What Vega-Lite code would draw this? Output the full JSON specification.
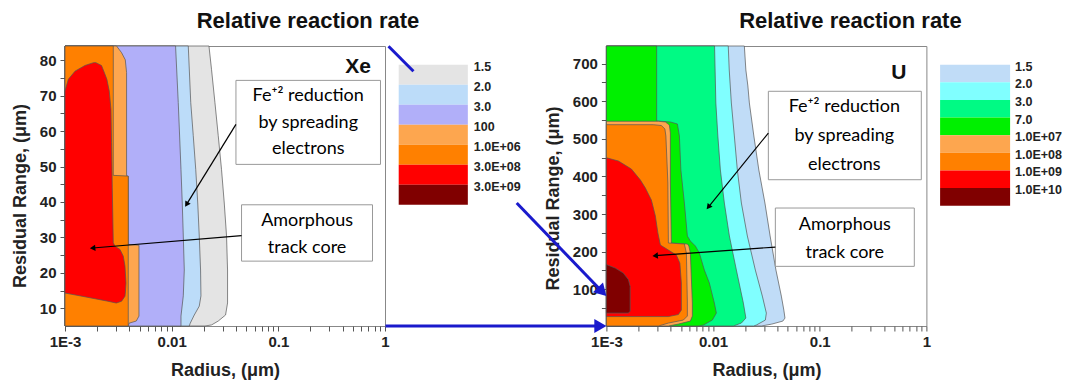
{
 "$schema": "https://vega.github.io/schema/vega-lite/v6.json",
 "background": "white",
 "padding": {"left": 10, "top": 9, "right": 5, "bottom": 2},
 "config": {
  "font": "Liberation Sans",
  "view": {"stroke": null},
  "axis": {"labelFont": "Liberation Sans", "labelFontWeight": "bold", "labelFontSize": 15, "labelColor": "#222", "titleFont": "Liberation Sans", "titleFontWeight": "bold", "titleFontSize": 18, "titleColor": "#222", "tickColor": "#555", "grid": false, "tickSize": 5, "labelOverlap": false, "labelFlush": false, "labelBound": false, "domain": false},
  "title": {"font": "Liberation Sans", "fontSize": 22, "fontWeight": "bold", "color": "#111", "offset": 12, "anchor": "middle", "frame": "group"}
 },
 "datasets": {
  "xeContours": [
   {"level": "1.5", "y": 84, "x": 0.02237, "lo": 0.001},
   {"level": "1.5", "y": 77.3, "x": 0.02366, "lo": 0.001},
   {"level": "1.5", "y": 68, "x": 0.02545, "lo": 0.001},
   {"level": "1.5", "y": 58.7, "x": 0.02733, "lo": 0.001},
   {"level": "1.5", "y": 49.1, "x": 0.02935, "lo": 0.001},
   {"level": "1.5", "y": 39.7, "x": 0.03112, "lo": 0.001},
   {"level": "1.5", "y": 30.4, "x": 0.03269, "lo": 0.001},
   {"level": "1.5", "y": 20.8, "x": 0.03341, "lo": 0.001},
   {"level": "1.5", "y": 11.5, "x": 0.03341, "lo": 0.001},
   {"level": "1.5", "y": 8.1, "x": 0.032, "lo": 0.001},
   {"level": "1.5", "y": 6.4, "x": 0.02733, "lo": 0.001},
   {"level": "1.5", "y": 5.3, "x": 0.02366, "lo": 0.001},
   {"level": "1.5", "y": 5, "x": 0.02051, "lo": 0.001},
   {"level": "2.0", "y": 84, "x": 0.01431, "lo": 0.001},
   {"level": "2.0", "y": 68, "x": 0.0151, "lo": 0.001},
   {"level": "2.0", "y": 58.7, "x": 0.01594, "lo": 0.001},
   {"level": "2.0", "y": 49.1, "x": 0.01682, "lo": 0.001},
   {"level": "2.0", "y": 39.7, "x": 0.01756, "lo": 0.001},
   {"level": "2.0", "y": 30.4, "x": 0.01814, "lo": 0.001},
   {"level": "2.0", "y": 20.8, "x": 0.01866, "lo": 0.001},
   {"level": "2.0", "y": 13.5, "x": 0.01882, "lo": 0.001},
   {"level": "2.0", "y": 10.6, "x": 0.01814, "lo": 0.001},
   {"level": "2.0", "y": 8.1, "x": 0.01629, "lo": 0.001},
   {"level": "2.0", "y": 5.8, "x": 0.01494, "lo": 0.001},
   {"level": "2.0", "y": 5, "x": 0.01462, "lo": 0.001},
   {"level": "3.0", "y": 84, "x": 0.01088, "lo": 0.001},
   {"level": "3.0", "y": 68, "x": 0.01153, "lo": 0.001},
   {"level": "3.0", "y": 49.1, "x": 0.01223, "lo": 0.001},
   {"level": "3.0", "y": 39.7, "x": 0.01257, "lo": 0.001},
   {"level": "3.0", "y": 30.4, "x": 0.01285, "lo": 0.001},
   {"level": "3.0", "y": 20.8, "x": 0.01313, "lo": 0.001},
   {"level": "3.0", "y": 13.5, "x": 0.01285, "lo": 0.001},
   {"level": "3.0", "y": 7.8, "x": 0.01223, "lo": 0.001},
   {"level": "3.0", "y": 5, "x": 0.01223, "lo": 0.001},
   {"level": "100", "y": 84, "x": 0.003045, "lo": 0.001},
   {"level": "100", "y": 82.1, "x": 0.003393, "lo": 0.001},
   {"level": "100", "y": 80.1, "x": 0.003674, "lo": 0.001},
   {"level": "100", "y": 76.5, "x": 0.003778, "lo": 0.001},
   {"level": "100", "y": 47.4, "x": 0.003778, "lo": 0.001},
   {"level": "100", "y": 47.2, "x": 0.003919, "lo": 0.001},
   {"level": "100", "y": 28, "x": 0.003919, "lo": 0.001},
   {"level": "100", "y": 27.8, "x": 0.004938, "lo": 0.001},
   {"level": "100", "y": 7.8, "x": 0.004938, "lo": 0.001},
   {"level": "100", "y": 6.4, "x": 0.00466, "lo": 0.001},
   {"level": "100", "y": 5.8, "x": 0.00399, "lo": 0.001},
   {"level": "100", "y": 5, "x": 0.003919, "lo": 0.001},
   {"level": "1.0E+06", "y": 84, "x": 0.002836, "lo": 0.001},
   {"level": "1.0E+06", "y": 47.5, "x": 0.002836, "lo": 0.001},
   {"level": "1.0E+06", "y": 47.3, "x": 0.003919, "lo": 0.001},
   {"level": "1.0E+06", "y": 5, "x": 0.003919, "lo": 0.001},
   {"level": "3.0E+08", "y": 79.3, "x": 0.00195, "lo": 0.00185},
   {"level": "3.0E+08", "y": 78.5, "x": 0.0022, "lo": 0.001539},
   {"level": "3.0E+08", "y": 76.9, "x": 0.00231, "lo": 0.001241},
   {"level": "3.0E+08", "y": 74.6, "x": 0.00247, "lo": 0.001074},
   {"level": "3.0E+08", "y": 71.3, "x": 0.0026, "lo": 0.001},
   {"level": "3.0E+08", "y": 66.1, "x": 0.002698, "lo": 0.001},
   {"level": "3.0E+08", "y": 56.7, "x": 0.002733, "lo": 0.001},
   {"level": "3.0E+08", "y": 44, "x": 0.002775, "lo": 0.001},
   {"level": "3.0E+08", "y": 28.5, "x": 0.002836, "lo": 0.001},
   {"level": "3.0E+08", "y": 27.5, "x": 0.002941, "lo": 0.001},
   {"level": "3.0E+08", "y": 26.6, "x": 0.003278, "lo": 0.001},
   {"level": "3.0E+08", "y": 24.7, "x": 0.00352, "lo": 0.001},
   {"level": "3.0E+08", "y": 21.9, "x": 0.003651, "lo": 0.001},
   {"level": "3.0E+08", "y": 17.1, "x": 0.003731, "lo": 0.001},
   {"level": "3.0E+08", "y": 14.3, "x": 0.00368, "lo": 0.001},
   {"level": "3.0E+08", "y": 13.4, "x": 0.003651, "lo": 0.001443},
   {"level": "3.0E+08", "y": 12, "x": 0.003393, "lo": 0.002519},
   {"level": "3.0E+08", "y": 11.5, "x": 0.003045, "lo": 0.003}
  ],
  "uContours": [
   {"level": "1.5", "y": 747, "x": 0.01965, "lo": 0.001},
   {"level": "1.5", "y": 683.2, "x": 0.0203, "lo": 0.001},
   {"level": "1.5", "y": 640.6, "x": 0.0212, "lo": 0.001},
   {"level": "1.5", "y": 595.4, "x": 0.02189, "lo": 0.001},
   {"level": "1.5", "y": 507.6, "x": 0.02412, "lo": 0.001},
   {"level": "1.5", "y": 417.1, "x": 0.02686, "lo": 0.001},
   {"level": "1.5", "y": 329.2, "x": 0.03064, "lo": 0.001},
   {"level": "1.5", "y": 241.4, "x": 0.03427, "lo": 0.001},
   {"level": "1.5", "y": 150.8, "x": 0.03886, "lo": 0.001},
   {"level": "1.5", "y": 81.6, "x": 0.04365, "lo": 0.001},
   {"level": "1.5", "y": 44.4, "x": 0.04608, "lo": 0.001},
   {"level": "1.5", "y": 23.1, "x": 0.0472, "lo": 0.001},
   {"level": "1.5", "y": 15.1, "x": 0.0451, "lo": 0.001},
   {"level": "1.5", "y": 7.1, "x": 0.03556, "lo": 0.001},
   {"level": "1.5", "y": 2, "x": 0.02836, "lo": 0.001},
   {"level": "2.0", "y": 747, "x": 0.01388, "lo": 0.001},
   {"level": "2.0", "y": 683.2, "x": 0.01418, "lo": 0.001},
   {"level": "2.0", "y": 595.4, "x": 0.01484, "lo": 0.001},
   {"level": "2.0", "y": 507.6, "x": 0.01583, "lo": 0.001},
   {"level": "2.0", "y": 417.1, "x": 0.01689, "lo": 0.001},
   {"level": "2.0", "y": 329.2, "x": 0.01842, "lo": 0.001},
   {"level": "2.0", "y": 241.4, "x": 0.02097, "lo": 0.001},
   {"level": "2.0", "y": 150.8, "x": 0.02491, "lo": 0.001},
   {"level": "2.0", "y": 81.6, "x": 0.02897, "lo": 0.001},
   {"level": "2.0", "y": 36.4, "x": 0.03159, "lo": 0.001},
   {"level": "2.0", "y": 17.8, "x": 0.03092, "lo": 0.001},
   {"level": "2.0", "y": 4.5, "x": 0.02545, "lo": 0.001},
   {"level": "2.0", "y": 2, "x": 0.024, "lo": 0.001},
   {"level": "3.0", "y": 747, "x": 0.01033, "lo": 0.001},
   {"level": "3.0", "y": 595.4, "x": 0.01062, "lo": 0.001},
   {"level": "3.0", "y": 507.6, "x": 0.01109, "lo": 0.001},
   {"level": "3.0", "y": 417.1, "x": 0.01171, "lo": 0.001},
   {"level": "3.0", "y": 329.2, "x": 0.01276, "lo": 0.001},
   {"level": "3.0", "y": 241.4, "x": 0.01422, "lo": 0.001},
   {"level": "3.0", "y": 150.8, "x": 0.01654, "lo": 0.001},
   {"level": "3.0", "y": 63, "x": 0.01923, "lo": 0.001},
   {"level": "3.0", "y": 23.1, "x": 0.0203, "lo": 0.001},
   {"level": "3.0", "y": 9.8, "x": 0.01842, "lo": 0.001},
   {"level": "3.0", "y": 2, "x": 0.0155, "lo": 0.001},
   {"level": "7.0", "y": 747, "x": 0.00296, "lo": 0.001},
   {"level": "7.0", "y": 547.5, "x": 0.00296, "lo": 0.001},
   {"level": "7.0", "y": 544.8, "x": 0.003979, "lo": 0.001},
   {"level": "7.0", "y": 539.5, "x": 0.00463, "lo": 0.001},
   {"level": "7.0", "y": 507.6, "x": 0.004834, "lo": 0.001},
   {"level": "7.0", "y": 417.1, "x": 0.004992, "lo": 0.001},
   {"level": "7.0", "y": 329.2, "x": 0.005383, "lo": 0.001},
   {"level": "7.0", "y": 241.4, "x": 0.005742, "lo": 0.001},
   {"level": "7.0", "y": 228.1, "x": 0.006127, "lo": 0.001},
   {"level": "7.0", "y": 214.8, "x": 0.006825, "lo": 0.001},
   {"level": "7.0", "y": 196.1, "x": 0.007439, "lo": 0.001},
   {"level": "7.0", "y": 150.8, "x": 0.008288, "lo": 0.001},
   {"level": "7.0", "y": 116.3, "x": 0.009232, "lo": 0.001},
   {"level": "7.0", "y": 63, "x": 0.01028, "lo": 0.001},
   {"level": "7.0", "y": 36.4, "x": 0.01074, "lo": 0.001},
   {"level": "7.0", "y": 17.8, "x": 0.009849, "lo": 0.001},
   {"level": "7.0", "y": 4.5, "x": 0.008111, "lo": 0.001},
   {"level": "7.0", "y": 2, "x": 0.007281, "lo": 0.001},
   {"level": "1.0E+07", "y": 546.7, "x": 0.003071, "lo": 0.001},
   {"level": "1.0E+07", "y": 544.8, "x": 0.003573, "lo": 0.001},
   {"level": "1.0E+07", "y": 536.8, "x": 0.003894, "lo": 0.001},
   {"level": "1.0E+07", "y": 515.5, "x": 0.003979, "lo": 0.001},
   {"level": "1.0E+07", "y": 382.5, "x": 0.003979, "lo": 0.001},
   {"level": "1.0E+07", "y": 222.8, "x": 0.004066, "lo": 0.001},
   {"level": "1.0E+07", "y": 220.1, "x": 0.005742, "lo": 0.001},
   {"level": "1.0E+07", "y": 214.8, "x": 0.005932, "lo": 0.001},
   {"level": "1.0E+07", "y": 196.1, "x": 0.006127, "lo": 0.001},
   {"level": "1.0E+07", "y": 63, "x": 0.006397, "lo": 0.001},
   {"level": "1.0E+07", "y": 28.5, "x": 0.006397, "lo": 0.001},
   {"level": "1.0E+07", "y": 15.1, "x": 0.006127, "lo": 0.001},
   {"level": "1.0E+07", "y": 7.1, "x": 0.004729, "lo": 0.001},
   {"level": "1.0E+07", "y": 2, "x": 0.003811, "lo": 0.001},
   {"level": "1.0E+08", "y": 537.6, "x": 0.002757, "lo": 0.001},
   {"level": "1.0E+08", "y": 535.5, "x": 0.003278, "lo": 0.001},
   {"level": "1.0E+08", "y": 526.2, "x": 0.003534, "lo": 0.001},
   {"level": "1.0E+08", "y": 507.6, "x": 0.003611, "lo": 0.001},
   {"level": "1.0E+08", "y": 382.5, "x": 0.003771, "lo": 0.001},
   {"level": "1.0E+08", "y": 222.8, "x": 0.003811, "lo": 0.001},
   {"level": "1.0E+08", "y": 220.1, "x": 0.005383, "lo": 0.001},
   {"level": "1.0E+08", "y": 196.1, "x": 0.005623, "lo": 0.001},
   {"level": "1.0E+08", "y": 63, "x": 0.005742, "lo": 0.001},
   {"level": "1.0E+08", "y": 28.5, "x": 0.005742, "lo": 0.001},
   {"level": "1.0E+08", "y": 17.8, "x": 0.005267, "lo": 0.001},
   {"level": "1.0E+08", "y": 9.8, "x": 0.003811, "lo": 0.001},
   {"level": "1.0E+08", "y": 2, "x": 0.003071, "lo": 0.001},
   {"level": "1.0E+09", "y": 449, "x": 0.001022, "lo": 0.001},
   {"level": "1.0E+09", "y": 441, "x": 0.001296, "lo": 0.001},
   {"level": "1.0E+09", "y": 419.7, "x": 0.001715, "lo": 0.001},
   {"level": "1.0E+09", "y": 390.4, "x": 0.002083, "lo": 0.001},
   {"level": "1.0E+09", "y": 369.1, "x": 0.00232, "lo": 0.001},
   {"level": "1.0E+09", "y": 337.2, "x": 0.002641, "lo": 0.001},
   {"level": "1.0E+09", "y": 294.6, "x": 0.002879, "lo": 0.001},
   {"level": "1.0E+09", "y": 249.4, "x": 0.003039, "lo": 0.001},
   {"level": "1.0E+09", "y": 217.4, "x": 0.003208, "lo": 0.001},
   {"level": "1.0E+09", "y": 204.1, "x": 0.003811, "lo": 0.001},
   {"level": "1.0E+09", "y": 190.8, "x": 0.004529, "lo": 0.001},
   {"level": "1.0E+09", "y": 169.5, "x": 0.004885, "lo": 0.001},
   {"level": "1.0E+09", "y": 116.3, "x": 0.005045, "lo": 0.001},
   {"level": "1.0E+09", "y": 44.4, "x": 0.005045, "lo": 0.001},
   {"level": "1.0E+09", "y": 32.4, "x": 0.004729, "lo": 0.001},
   {"level": "1.0E+09", "y": 27.1, "x": 0.003811, "lo": 0.001},
   {"level": "1.0E+10", "y": 165, "x": 0.00101, "lo": 0.001},
   {"level": "1.0E+10", "y": 156.2, "x": 0.00121, "lo": 0.001},
   {"level": "1.0E+10", "y": 142.9, "x": 0.00144, "lo": 0.001},
   {"level": "1.0E+10", "y": 125.1, "x": 0.00161, "lo": 0.001},
   {"level": "1.0E+10", "y": 107.5, "x": 0.00167, "lo": 0.001},
   {"level": "1.0E+10", "y": 40.9, "x": 0.00167, "lo": 0.001},
   {"level": "1.0E+10", "y": 36.4, "x": 0.0016, "lo": 0.001}
  ],
  "xeLegend": [{"level": "1.5"}, {"level": "2.0"}, {"level": "3.0"}, {"level": "100"}, {"level": "1.0E+06"}, {"level": "3.0E+08"}, {"level": "3.0E+09"}],
  "uLegend": [{"level": "1.5"}, {"level": "2.0"}, {"level": "3.0"}, {"level": "7.0"}, {"level": "1.0E+07"}, {"level": "1.0E+08"}, {"level": "1.0E+09"}, {"level": "1.0E+10"}],
  "xeBoxes": [{"x": 0.04005, "x2": 0.9074, "y": 74.3, "y2": 50.6}, {"x": 0.04519, "x2": 0.7636, "y": 39.2, "y2": 23.3}],
  "uBoxes": [{"x": 0.03298, "x2": 0.8959, "y": 626.5, "y2": 391.2}, {"x": 0.03837, "x2": 0.7701, "y": 315.9, "y2": 160.7}],
  "xeText": [
   {"x": 0.1906, "y": 70.0, "t": "Fe⁺² reduction"},
   {"x": 0.1906, "y": 62.3, "t": "by spreading"},
   {"x": 0.1906, "y": 55.0, "t": "electrons"},
   {"x": 0.186, "y": 34.6, "t": "Amorphous"},
   {"x": 0.186, "y": 27.0, "t": "track core"}
  ],
  "uText": [
   {"x": 0.17, "y": 584.7, "t": "Fe⁺² reduction"},
   {"x": 0.17, "y": 507.6, "t": "by spreading"},
   {"x": 0.17, "y": 430.4, "t": "electrons"},
   {"x": 0.1717, "y": 271.5, "t": "Amorphous"},
   {"x": 0.1717, "y": 196.1, "t": "track core"}
  ],
  "xeTag": [{"x": 0.5608, "y": 78.0, "t": "Xe"}],
  "uTag": [{"x": 0.5524, "y": 675.2, "t": "U"}],
  "xeArrows": [{"id": 1, "x": 0.04005, "y": 61.9, "x2": 0.01379, "y2": 39.3}, {"id": 2, "x": 0.04519, "y": 30.5, "x2": 0.001815, "y2": 27.0}],
  "uArrows": [{"id": 1, "x": 0.03298, "y": 515.5, "x2": 0.009036, "y2": 318.6}, {"id": 2, "x": 0.03837, "y": 212.1, "x2": 0.002867, "y2": 189.0}],
  "blueLines": [{"id": 1, "x": 0.00000906, "y": 746.3, "x2": 0.00001553, "y2": 679.8}, {"id": 2, "x": 0.0001443, "y": 329.2, "x2": 0.000913, "y2": 93.1}, {"id": 3, "x": 0.00000849, "y": 2, "x2": 0.0008786, "y2": 2}]
 },
 "spacing": 13.7,
 "bounds": "flush",
 "resolve": {"scale": {"x": "independent", "y": "independent", "color": "independent"}},
 "hconcat": [
  {
   "title": {"text": "Relative reaction rate", "dx": 83},
   "width": 320, "height": 280,
   "view": {"stroke": "#888", "strokeWidth": 1},
   "encoding": {
    "x": {"field": "x", "type": "quantitative", "scale": {"type": "log", "domain": [0.001, 1], "nice": false},
          "axis": {"title": "Radius, (μm)", "values": [0.001,0.002,0.003,0.004,0.005,0.006,0.007,0.008,0.009,0.01,0.02,0.03,0.04,0.05,0.06,0.07,0.08,0.09,0.1,0.2,0.3,0.4,0.5,0.6,0.7,0.8,0.9,1],
                   "labelExpr": "datum.value == 0.001 ? '1E-3' : datum.value == 0.01 ? '0.01' : datum.value == 0.1 ? '0.1' : datum.value == 1 ? '1' : ''",
                   "labelPadding": 3, "titlePadding": 12}},
    "y": {"field": "y", "type": "quantitative", "scale": {"domain": [5, 84], "nice": false, "zero": false},
          "axis": {"title": "Residual Range, (μm)", "values": [10,15,20,25,30,35,40,45,50,55,60,65,70,75,80],
                   "labelExpr": "datum.value % 10 == 0 ? datum.label : ''", "titleY": 149.5, "titlePadding": 10, "labelPadding": 4}}
   },
   "layer": [
    {"data": {"name": "xeContours"},
     "mark": {"type": "area", "orient": "horizontal", "stroke": "#555", "strokeWidth": 0.7},
     "encoding": {
      "x2": {"field": "lo"},
      "color": {"field": "level", "type": "nominal", "legend": null,
                "scale": {"domain": ["1.5", "2.0", "3.0", "100", "1.0E+06", "3.0E+08", "3.0E+09"], "range": ["#e4e4e4", "#bcdcf9", "#b1aff9", "#fda64f", "#ff8000", "#ff0000", "#800000"]}}
     }},
    {"data": {"name": "xeBoxes"}, "mark": {"type": "rect", "fill": "white", "stroke": "#999", "strokeWidth": 1},
     "encoding": {"x2": {"field": "x2"}, "y2": {"field": "y2"}}},
    {"data": {"name": "xeText"}, "mark": {"type": "text", "font": "Lato", "fontSize": 18, "color": "#000", "baseline": "middle", "align": "center"},
     "encoding": {"text": {"field": "t"}}},
    {"data": {"name": "xeTag"}, "mark": {"type": "text", "font": "Liberation Sans", "fontWeight": "bold", "fontSize": 21, "color": "#111", "baseline": "middle", "align": "center"},
     "encoding": {"text": {"field": "t"}}},
    {"data": {"name": "xeArrows"}, "mark": {"type": "rule", "color": "#000", "strokeWidth": 1.2},
     "encoding": {"x2": {"field": "x2"}, "y2": {"field": "y2"}}},
    {"data": {"name": "xeArrows"}, "transform": [{"filter": "datum.id == 1"}],
     "mark": {"type": "point", "shape": "triangle-up", "angle": 212, "filled": true, "color": "#000", "size": 40, "opacity": 1},
     "encoding": {"x": {"field": "x2", "type": "quantitative"}, "y": {"field": "y2", "type": "quantitative"}}},
    {"data": {"name": "xeArrows"}, "transform": [{"filter": "datum.id == 2"}],
     "mark": {"type": "point", "shape": "triangle-up", "angle": 265, "filled": true, "color": "#000", "size": 40, "opacity": 1},
     "encoding": {"x": {"field": "x2", "type": "quantitative"}, "y": {"field": "y2", "type": "quantitative"}}}
   ]
  },
  {
   "width": 193.6, "height": 280,
   "view": {"stroke": null},
   "data": {"name": "xeLegend"},
   "encoding": {
    "y": {"field": "level", "type": "nominal", "sort": null, "axis": null,
          "scale": {"paddingInner": 0, "paddingOuter": 0, "range": [18.7, 158.7]}}
   },
   "layer": [
    {"mark": {"type": "rect"},
     "encoding": {
      "x": {"datum": 0, "type": "quantitative", "scale": {"domain": [0, 2.766]}, "axis": null},
      "x2": {"datum": 1},
      "color": {"field": "level", "type": "nominal", "legend": null,
                "scale": {"domain": ["1.5", "2.0", "3.0", "100", "1.0E+06", "3.0E+08", "3.0E+09"], "range": ["#e4e4e4", "#bcdcf9", "#b1aff9", "#fda64f", "#ff8000", "#ff0000", "#800000"]}}
     }},
    {"mark": {"type": "text", "align": "left", "baseline": "middle", "dx": 6, "dy": 2, "fontSize": 12.5, "fontWeight": "bold", "font": "Liberation Sans", "color": "#222"},
     "encoding": {
      "y": {"field": "level", "type": "nominal", "sort": null, "bandPosition": 0},
      "x": {"datum": 1, "type": "quantitative"},
      "text": {"field": "level"}
     }}
   ]
  },
  {
   "title": {"text": "Relative reaction rate", "dx": 84},
   "width": 320, "height": 280,
   "view": {"stroke": "#888", "strokeWidth": 1},
   "encoding": {
    "x": {"field": "x", "type": "quantitative", "scale": {"type": "log", "domain": [0.001, 1], "nice": false},
          "axis": {"title": "Radius, (μm)", "values": [0.001,0.002,0.003,0.004,0.005,0.006,0.007,0.008,0.009,0.01,0.02,0.03,0.04,0.05,0.06,0.07,0.08,0.09,0.1,0.2,0.3,0.4,0.5,0.6,0.7,0.8,0.9,1],
                   "labelExpr": "datum.value == 0.001 ? '1E-3' : datum.value == 0.01 ? '0.01' : datum.value == 0.1 ? '0.1' : datum.value == 1 ? '1' : ''",
                   "labelPadding": 3, "titlePadding": 12}},
    "y": {"field": "y", "type": "quantitative", "scale": {"domain": [2, 747], "nice": false, "zero": false},
          "axis": {"title": "Residual Range, (μm)", "values": [50,100,150,200,250,300,350,400,450,500,550,600,650,700],
                   "labelExpr": "datum.value % 100 == 0 ? datum.label : ''", "titleY": 152, "titlePadding": 10, "labelPadding": 4}}
   },
   "layer": [
    {"data": {"name": "uContours"},
     "mark": {"type": "area", "orient": "horizontal", "stroke": "#555", "strokeWidth": 0.7},
     "encoding": {
      "x2": {"field": "lo"},
      "color": {"field": "level", "type": "nominal", "legend": null,
                "scale": {"domain": ["1.5", "2.0", "3.0", "7.0", "1.0E+07", "1.0E+08", "1.0E+09", "1.0E+10"], "range": ["#c0dcf7", "#80ffff", "#00fa84", "#00f000", "#fda64f", "#ff8000", "#ff0000", "#800000"]}}
     }},
    {"data": {"name": "uBoxes"}, "mark": {"type": "rect", "fill": "white", "stroke": "#999", "strokeWidth": 1},
     "encoding": {"x2": {"field": "x2"}, "y2": {"field": "y2"}}},
    {"data": {"name": "uText"}, "mark": {"type": "text", "font": "Lato", "fontSize": 18, "color": "#000", "baseline": "middle", "align": "center"},
     "encoding": {"text": {"field": "t"}}},
    {"data": {"name": "uTag"}, "mark": {"type": "text", "font": "Liberation Sans", "fontWeight": "bold", "fontSize": 21, "color": "#111", "baseline": "middle", "align": "center"},
     "encoding": {"text": {"field": "t"}}},
    {"data": {"name": "uArrows"}, "mark": {"type": "rule", "color": "#000", "strokeWidth": 1.2},
     "encoding": {"x2": {"field": "x2"}, "y2": {"field": "y2"}}},
    {"data": {"name": "uArrows"}, "transform": [{"filter": "datum.id == 1"}],
     "mark": {"type": "point", "shape": "triangle-up", "angle": 219, "filled": true, "color": "#000", "size": 40, "opacity": 1},
     "encoding": {"x": {"field": "x2", "type": "quantitative"}, "y": {"field": "y2", "type": "quantitative"}}},
    {"data": {"name": "uArrows"}, "transform": [{"filter": "datum.id == 2"}],
     "mark": {"type": "point", "shape": "triangle-up", "angle": 266, "filled": true, "color": "#000", "size": 40, "opacity": 1},
     "encoding": {"x": {"field": "x2", "type": "quantitative"}, "y": {"field": "y2", "type": "quantitative"}}},
    {"data": {"name": "blueLines"}, "mark": {"type": "rule", "color": "#1a1acc", "strokeWidth": 3},
     "encoding": {"x2": {"field": "x2"}, "y2": {"field": "y2"}}},
    {"data": {"name": "blueLines"}, "transform": [{"filter": "datum.id == 2"}],
     "mark": {"type": "point", "shape": "triangle-up", "angle": 136, "filled": true, "color": "#1a1acc", "size": 196, "opacity": 1},
     "encoding": {"x": {"field": "x2", "type": "quantitative"}, "y": {"field": "y2", "type": "quantitative"}}},
    {"data": {"name": "blueLines"}, "transform": [{"filter": "datum.id == 3"}],
     "mark": {"type": "point", "shape": "triangle-up", "angle": 90, "filled": true, "color": "#1a1acc", "size": 196, "opacity": 1},
     "encoding": {"x": {"field": "x2", "type": "quantitative"}, "y": {"field": "y2", "type": "quantitative"}}}
   ]
  },
  {
   "width": 70, "height": 280,
   "view": {"stroke": null},
   "data": {"name": "uLegend"},
   "encoding": {
    "y": {"field": "level", "type": "nominal", "sort": null, "axis": null,
          "scale": {"paddingInner": 0, "paddingOuter": 0, "range": [18.7, 159.7]}}
   },
   "layer": [
    {"mark": {"type": "rect"},
     "encoding": {
      "x": {"datum": 0, "type": "quantitative", "scale": {"domain": [0, 1]}, "axis": null},
      "x2": {"datum": 1},
      "color": {"field": "level", "type": "nominal", "legend": null,
                "scale": {"domain": ["1.5", "2.0", "3.0", "7.0", "1.0E+07", "1.0E+08", "1.0E+09", "1.0E+10"], "range": ["#c0dcf7", "#80ffff", "#00fa84", "#00f000", "#fda64f", "#ff8000", "#ff0000", "#800000"]}}
     }},
    {"mark": {"type": "text", "align": "left", "baseline": "middle", "dx": 5, "dy": 2, "fontSize": 12.5, "fontWeight": "bold", "font": "Liberation Sans", "color": "#222"},
     "encoding": {
      "y": {"field": "level", "type": "nominal", "sort": null, "bandPosition": 0},
      "x": {"datum": 1, "type": "quantitative"},
      "text": {"field": "level"}
     }}
   ]
  }
 ]
}
